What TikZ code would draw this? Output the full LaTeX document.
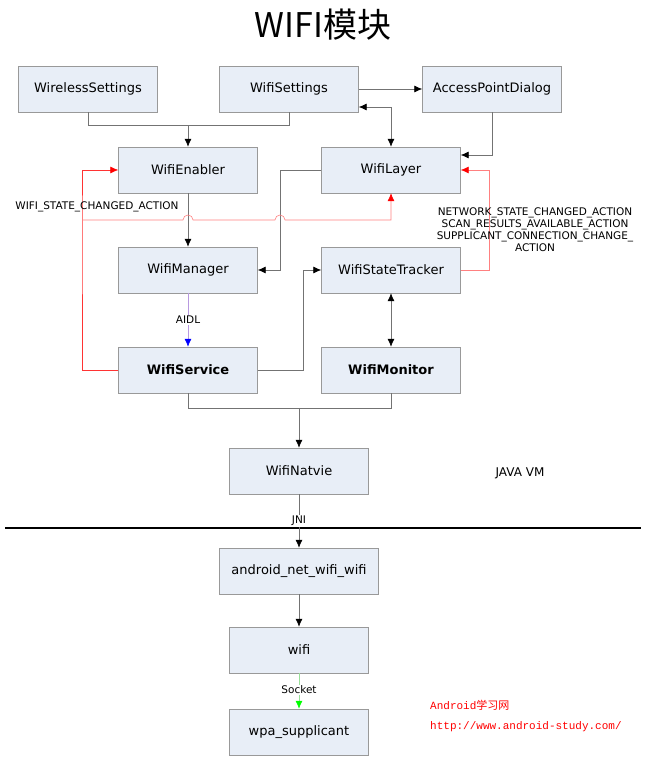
\documentclass[tikz,border=0pt]{standalone}
\usepackage{fontspec}
\setmainfont{DejaVu Sans}
\newfontfamily\cjk{Noto Sans CJK SC}
\newfontfamily\urlfont{Liberation Mono}
\usetikzlibrary{calc,arrows.meta}
\definecolor{boxfill}{HTML}{E8EEF7}

\begin{document}
\begin{tikzpicture}[x=1pt,y=1pt]
	\tikzset{box/.style={draw=black!40, fill=boxfill, minimum width=139pt, minimum height=46pt, font=\fontsize{13}{15}\selectfont, inner sep=0pt}}
	\tikzset{conn/.style={draw=black!55, line width=0.7pt, -{Latex[length=8pt,width=7pt,color=black]}}}
	\tikzset{lab/.style={font=\fontsize{10.5}{12}\selectfont, inner sep=1pt}}
	\useasboundingbox (0,0) rectangle (646,762);
	% title
	\node (title) at (323,737) {\fontsize{34}{36}\selectfont\cjk WIFI模块};
	% boxes
	\node[box] (wireless) at (88,673) {WirelessSettings};
	\node[box] (settings) at (289,673) {WifiSettings};
	\node[box] (apdialog) at (492,673) {AccessPointDialog};
	\node[box] (enabler) at (188,592) {WifiEnabler};
	\node[box] (layer) at (391,592) {WifiLayer};
	\node[box] (manager) at (188,492) {WifiManager};
	\node[box] (tracker) at (391,492) {WifiStateTracker};
	\node[box] (service) at (188,392) {\textbf{WifiService}};
	\node[box] (monitor) at (391,392) {\textbf{WifiMonitor}};
	\node[box] (natvie) at (299,291) {WifiNatvie};
	\node[box, minimum width=159pt] (jni) at (299,191) {android\_net\_wifi\_wifi};
	\node[box] (wifi) at (299,112) {wifi};
	\node[box] (wpa) at (299,30) {wpa\_supplicant};
	% helper points
	\coordinate (top) at (0,637);
	\coordinate (red) at (82,542);
	\coordinate (bot) at (0,354);
	% top connectors
	\draw[conn,-] (wireless.south) |- (enabler.north |- top);
	\draw[conn] (settings.south) |- (enabler.north |- top) -- (enabler.north);
	\draw[conn] (settings.east) -- (apdialog.west);
	\draw[conn,{Latex[length=8pt,width=7pt,color=black]}-{Latex[length=8pt,width=7pt,color=black]}] ([yshift=-18pt]settings.east) -| (layer.north);
	\draw[conn] (apdialog.south) |- ([yshift=15pt]layer.east);
	\draw[conn] (enabler.south) -- (manager.north);
	\draw[conn] (layer.west) -| (280,492) -- (manager.east);
	% red broadcasts
	\draw[red!80, line width=0.6pt, -{Latex[length=8pt,width=7pt,color=red]}] (service.west) -| (red) |- (enabler.west);
	\draw[red!50, line width=0.6pt, -{Latex[length=8pt,width=7pt,fill=red,color=red]}] (red) -- ([xshift=-5pt]enabler.south |- red) arc (180:0:5pt)
		-- (275,542) arc (180:0:5pt) -- (layer.south |- red) -- (layer.south);
	\draw[red!50, line width=0.6pt, -{Latex[length=8pt,width=7pt,fill=red,color=red]}] (tracker.east) -| (489,592) -- (layer.east);
	\node[lab] (wsca) at (97,555) {WIFI\_STATE\_CHANGED\_ACTION};
	\node[lab, align=center] (nsca) at (535,532) {NETWORK\_STATE\_CHANGED\_ACTION\\SCAN\_RESULTS\_AVAILABLE\_ACTION\\SUPPLICANT\_CONNECTION\_CHANGE\_\\ACTION};
	% middle connectors
	\draw[blue!40!violet!40, line width=0.7pt, -{Latex[length=8pt,width=7pt,fill=blue,color=blue]}] (manager.south) -- (service.north);
	\node[lab, fill=white] (aidl) at (188,442) {AIDL};
	\draw[conn] (service.east) -| (303,492) -- (tracker.west);
	\draw[conn,{Latex[length=8pt,width=7pt,color=black]}-{Latex[length=8pt,width=7pt,color=black]}] (tracker.south) -- (monitor.north);
	\draw[conn,-] (service.south) |- (monitor.south |- bot) -- (monitor.south);
	\draw[conn] (natvie.north |- bot) -- (natvie.north);
	\node (javavm) at (520,289) {\fontsize{12}{14}\selectfont JAVA VM};
	% native side
	\draw[line width=2pt] (5,234) -- (641,234);
	\draw[conn] (natvie.south) -- (jni.north);
	\node[lab, fill=white] (jnil) at (299,241) {JNI};
	\draw[conn] (jni.south) -- (wifi.north);
	\draw[green!70!black!40, line width=0.7pt, -{Latex[length=8pt,width=7pt,fill=green,color=green]}] (wifi.south) -- (wpa.north);
	\node[lab, fill=white] (sock) at (299,72) {Socket};
	\node[anchor=west, red, inner sep=0pt] (site) at (430,57) {\fontsize{11}{13}\selectfont\urlfont Android\cjk 学习网};
	\node[anchor=west, red, inner sep=0pt] (url) at (430,35) {\fontsize{11}{13}\selectfont\urlfont http://www.android-study.com/};
\end{tikzpicture}
\end{document}
